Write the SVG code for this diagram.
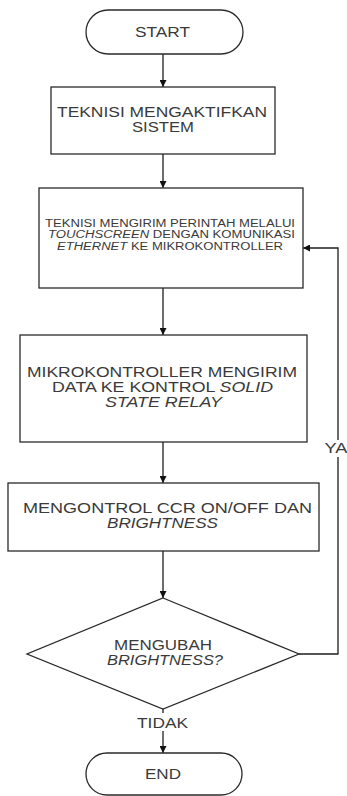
<svg xmlns="http://www.w3.org/2000/svg" width="347" height="796" viewBox="0 0 347 796">
<style>
.shape{fill:#fff;stroke:#2a2a2a;stroke-width:1.3}
.line{fill:none;stroke:#1e1e1e;stroke-width:1.3}
text{font-family:"Liberation Sans",Arial,sans-serif;fill:#3a3a3a;text-anchor:middle}
.t14{font-size:14px}
.t10{font-size:10px}
.i{font-style:italic}
</style>
<defs>
<marker id="arr" viewBox="0 0 10 10" refX="10" refY="5" markerWidth="7" markerHeight="7" markerUnits="userSpaceOnUse" orient="auto">
<path d="M0,0 L10,5 L0,10 z" fill="#111"/>
</marker>
</defs>
<rect width="347" height="796" fill="#fff"/>
<g id="connectors">
<line class="line" x1="163" y1="54" x2="163" y2="87" marker-end="url(#arr)"/>
<line class="line" x1="163" y1="154" x2="163" y2="188" marker-end="url(#arr)"/>
<line class="line" x1="163" y1="288" x2="163" y2="335" marker-end="url(#arr)"/>
<line class="line" x1="163" y1="442" x2="163" y2="483" marker-end="url(#arr)"/>
<line class="line" x1="163" y1="551" x2="163" y2="598" marker-end="url(#arr)"/>
<line class="line" x1="163" y1="709" x2="163" y2="753" marker-end="url(#arr)"/>
<polyline class="line" points="299,654 338,654 338,248 303,248" marker-end="url(#arr)"/>
<rect x="324" y="440" width="23" height="17" fill="#fff"/>
<text class="t14" x="336" y="453" textLength="23" lengthAdjust="spacingAndGlyphs">YA</text>
<rect x="136" y="713" width="54" height="18" fill="#fff"/>
<text class="t14" x="162.5" y="728" textLength="51" lengthAdjust="spacingAndGlyphs">TIDAK</text>
</g>
<g id="start">
<rect class="shape" x="86" y="10" width="157" height="44" rx="22" ry="22"/>
<text class="t14" x="162.5" y="37" textLength="55" lengthAdjust="spacingAndGlyphs">START</text>
</g>
<g id="step1">
<rect class="shape" x="51" y="87" width="224" height="67"/>
<text class="t14" x="162" y="117" textLength="210" lengthAdjust="spacingAndGlyphs">TEKNISI MENGAKTIFKAN</text>
<text class="t14" x="163" y="132" textLength="62" lengthAdjust="spacingAndGlyphs">SISTEM</text>
</g>
<g id="step2">
<rect class="shape" x="39" y="188" width="264" height="100"/>
<text class="t10" x="170" y="227" textLength="250" lengthAdjust="spacingAndGlyphs">TEKNISI MENGIRIM PERINTAH MELALUI</text>
<text class="t10" x="171.5" y="238" textLength="247" lengthAdjust="spacingAndGlyphs"><tspan class="i">TOUCHSCREEN</tspan> DENGAN KOMUNIKASI</text>
<text class="t10" x="170" y="249.5" textLength="226" lengthAdjust="spacingAndGlyphs"><tspan class="i">ETHERNET</tspan> KE MIKROKONTROLLER</text>
</g>
<g id="step3">
<rect class="shape" x="20" y="335" width="287" height="107"/>
<text class="t14" x="162" y="377" textLength="270" lengthAdjust="spacingAndGlyphs">MIKROKONTROLLER MENGIRIM</text>
<text class="t14" x="162.5" y="392" textLength="221" lengthAdjust="spacingAndGlyphs">DATA KE KONTROL <tspan class="i">SOLID</tspan></text>
<text class="t14 i" x="163.5" y="407" textLength="117" lengthAdjust="spacingAndGlyphs">STATE RELAY</text>
</g>
<g id="step4">
<rect class="shape" x="8" y="483" width="311" height="68"/>
<text class="t14" x="167.5" y="513" textLength="289" lengthAdjust="spacingAndGlyphs">MENGONTROL CCR ON/OFF DAN</text>
<text class="t14 i" x="162.5" y="528" textLength="111" lengthAdjust="spacingAndGlyphs">BRIGHTNESS</text>
</g>
<g id="decision">
<polygon class="shape" points="163,598 299,654 163,709 27,654"/>
<text class="t14" x="163" y="650" textLength="98" lengthAdjust="spacingAndGlyphs">MENGUBAH</text>
<text class="t14 i" x="165" y="665" textLength="116" lengthAdjust="spacingAndGlyphs">BRIGHTNESS?</text>
</g>
<g id="end">
<rect class="shape" x="86" y="753" width="156" height="42" rx="21" ry="21"/>
<text class="t14" x="163" y="779" textLength="36" lengthAdjust="spacingAndGlyphs">END</text>
</g>
</svg>
